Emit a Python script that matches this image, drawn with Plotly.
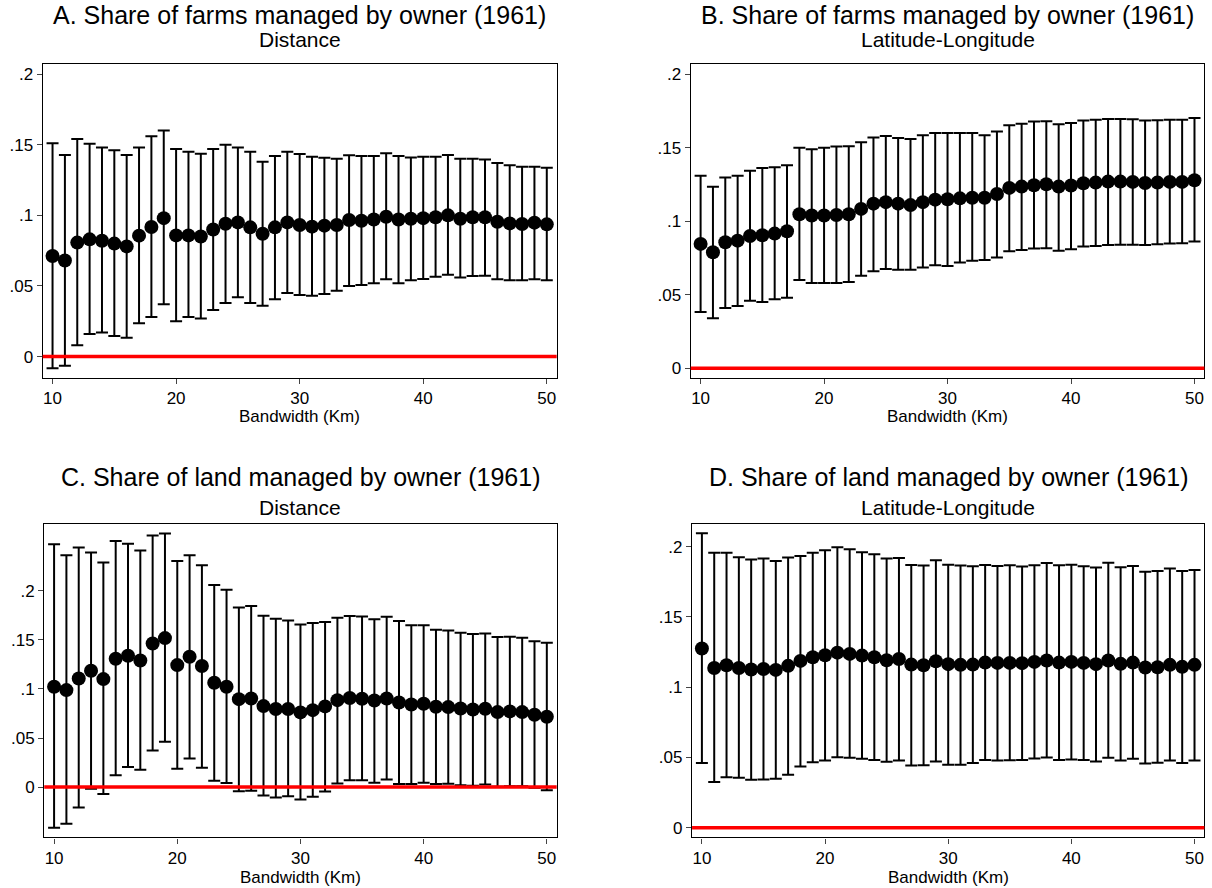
import plotly.graph_objects as go

bandwidth = list(range(10, 51))

A_est = [0.0712,0.068,0.0807,0.083,0.082,0.080,0.078,0.0856,0.0917,0.098,0.0858,0.0858,0.085,0.090,0.094,0.095,0.0915,0.087,0.0915,0.095,
         0.0932,0.092,0.0927,0.0932,0.0967,0.0962,0.097,0.099,0.097,0.0976,0.098,0.0986,0.100,0.0976,0.0986,0.0986,0.0955,0.0943,0.0939,0.0948,0.0936]
A_hi = [0.151,0.1427,0.154,0.1507,0.148,0.146,0.1427,0.148,0.156,0.160,0.147,0.145,0.1436,0.147,0.150,0.148,0.145,0.138,0.142,0.145,
        0.1434,0.1415,0.1408,0.140,0.1425,0.142,0.142,0.144,0.142,0.141,0.1415,0.1415,0.1427,0.140,0.140,0.1396,0.137,0.1354,0.1344,0.1344,0.1337]
A_lo = [-0.0083,-0.0064,0.008,0.016,0.017,0.0146,0.0134,0.0236,0.028,0.037,0.025,0.028,0.027,0.033,0.038,0.042,0.038,0.036,0.0406,0.045,
        0.0436,0.043,0.0443,0.0467,0.050,0.0507,0.052,0.0547,0.052,0.054,0.055,0.0566,0.058,0.056,0.057,0.0573,0.0547,0.054,0.054,0.0547,0.054]

B_est = [0.0846,0.0789,0.0857,0.0868,0.090,0.0905,0.0916,0.0932,0.1048,0.1039,0.1039,0.1043,0.1048,0.1084,0.112,0.113,0.112,0.111,0.113,0.1147,
         0.115,0.1156,0.116,0.116,0.1186,0.1227,0.1236,0.1245,0.1252,0.1236,0.1243,0.1259,0.1263,0.127,0.127,0.1268,0.126,0.1263,0.1268,0.1268,0.1279]
B_hi = [0.131,0.1235,0.1297,0.131,0.1344,0.1363,0.1367,0.1381,0.150,0.149,0.150,0.1508,0.151,0.1537,0.157,0.158,0.1567,0.156,0.1585,0.160,
        0.160,0.160,0.160,0.1585,0.161,0.1653,0.1664,0.1678,0.168,0.166,0.1669,0.1685,0.169,0.1696,0.1696,0.1694,0.1685,0.1687,0.169,0.169,0.1703]
B_lo = [0.0383,0.034,0.041,0.0424,0.046,0.045,0.047,0.048,0.060,0.058,0.058,0.058,0.0587,0.063,0.066,0.0676,0.067,0.067,0.0685,0.070,
        0.0696,0.0719,0.0732,0.0737,0.0753,0.0796,0.0805,0.0814,0.0816,0.080,0.081,0.0828,0.0832,0.0839,0.0841,0.0841,0.0839,0.0843,0.0848,0.085,0.0862]

C_est = [0.1022,0.0988,0.1107,0.1185,0.110,0.1307,0.1338,0.129,0.1463,0.1518,0.1243,0.1328,0.1233,0.1063,0.1022,0.0896,0.0903,0.0825,0.0795,0.0795,
         0.0761,0.0784,0.0822,0.0886,0.0907,0.090,0.0883,0.0903,0.0862,0.0842,0.0849,0.0818,0.0815,0.0801,0.0791,0.0798,0.0764,0.0771,0.0764,0.0737,0.0716]
C_hi = [0.2475,0.2363,0.2441,0.239,0.2289,0.2506,0.2479,0.2411,0.2564,0.2584,0.2302,0.2363,0.2261,0.2058,0.201,0.183,0.1844,0.1745,0.1715,0.1698,
        0.1657,0.1671,0.1681,0.1725,0.1742,0.1738,0.1711,0.1735,0.1691,0.165,0.165,0.1603,0.1596,0.1572,0.1559,0.1565,0.1528,0.1531,0.1521,0.1487,0.147]
C_lo = [-0.0414,-0.0374,-0.0207,-0.0017,-0.0071,0.0122,0.0204,0.0177,0.0374,0.0462,0.0187,0.0292,0.0197,0.0065,0.0041,-0.0041,-0.0037,-0.0085,-0.0105,-0.0092,
        -0.0126,-0.0098,-0.0044,0.0037,0.0071,0.0071,0.0044,0.0078,0.0031,0.0031,0.0044,0.0031,0.0034,0.002,0.0014,0.0027,0.0003,0.001,0.001,-0.0007,-0.0031]

D_est = [0.1275,0.1137,0.1156,0.1137,0.1126,0.113,0.1123,0.1152,0.1187,0.1213,0.1227,0.1246,0.1237,0.1225,0.1213,0.1192,0.1201,0.1161,0.1156,0.1185,
         0.1164,0.1159,0.1161,0.1175,0.1173,0.1173,0.1171,0.118,0.119,0.1175,0.118,0.1173,0.1164,0.119,0.1166,0.1175,0.114,0.1142,0.1159,0.1145,0.1159]
D_hi = [0.2095,0.1957,0.1957,0.1924,0.1908,0.1915,0.1898,0.1922,0.1934,0.1957,0.1974,0.1995,0.1981,0.196,0.1945,0.1915,0.1919,0.187,0.1865,0.1903,
        0.1872,0.1865,0.186,0.187,0.1863,0.1867,0.1858,0.1867,0.1884,0.1867,0.1872,0.186,0.1851,0.1886,0.1853,0.1863,0.1822,0.1827,0.1844,0.1827,0.1834]
D_lo = [0.046,0.0325,0.036,0.0355,0.0341,0.0344,0.0348,0.0377,0.0436,0.0467,0.0479,0.0502,0.0498,0.0491,0.0483,0.0469,0.0479,0.0443,0.0445,0.0472,
        0.0448,0.0448,0.046,0.0483,0.0479,0.0481,0.0483,0.0493,0.05,0.0483,0.0486,0.0483,0.0472,0.0498,0.0479,0.0491,0.0457,0.0462,0.0479,0.046,0.0479]

titles = ["A. Share of farms managed by owner (1961)", "B. Share of farms managed by owner (1961)",
          "C. Share of land managed by owner (1961)", "D. Share of land managed by owner (1961)"]
subtitles = ["Distance", "Latitude-Longitude", "Distance", "Latitude-Longitude"]
x_title = "Bandwidth (Km)"
y_tickvals = [0, 0.05, 0.1, 0.15, 0.2]
y_ticktext = ["0", ".05", ".1", ".15", ".2"]
x_tickvals = [10, 20, 30, 40, 50]

panels = [(A_est, A_hi, A_lo), (B_est, B_hi, B_lo), (C_est, C_hi, C_lo), (D_est, D_hi, D_lo)]
y_ranges = [[-0.0149, 0.2069], [-0.0064, 0.2068], [-0.0513, 0.268], [-0.0069, 0.2161]]

W, H = 1212, 888
x_domains = [[0.0352, 0.4593], [0.5699, 0.9937], [0.0365, 0.4593], [0.5710, 0.9937]]
y_domains = [[0.5747, 0.9276], [0.5747, 0.9276], [0.0569, 0.4099], [0.0569, 0.4099]]
title_px = [15, 15, 477, 477]
sub_px = [40, 40, 507, 507]
xtitle_px = [416, 416, 877, 877]

FONT = "Liberation Sans, Arial, sans-serif"
fig = go.Figure()
layout = dict(width=W, height=H, margin=dict(l=0, r=0, t=0, b=0),
              paper_bgcolor="white", plot_bgcolor="white", showlegend=False,
              font=dict(family=FONT, color="black"))
annotations = []
shapes = []
for i, (est, hi, lo) in enumerate(panels):
    xa = "x" if i == 0 else f"x{i+1}"
    ya = "y" if i == 0 else f"y{i+1}"
    plus = [h - e for h, e in zip(hi, est)]
    minus = [e - l for e, l in zip(est, lo)]
    fig.add_trace(go.Scatter(
        x=bandwidth, y=est, mode="markers", xaxis=xa, yaxis=ya,
        marker=dict(color="black", size=14, symbol="circle"),
        error_y=dict(type="data", symmetric=False, array=plus, arrayminus=minus,
                     color="black", thickness=2, width=6),
    ))
    axname_x = "xaxis" if i == 0 else f"xaxis{i+1}"
    axname_y = "yaxis" if i == 0 else f"yaxis{i+1}"
    layout[axname_x] = dict(domain=x_domains[i], range=[9.2, 50.8], anchor=ya,
                            tickvals=x_tickvals, ticks="outside", ticklen=5, tickwidth=1.3,
                            showline=True, linecolor="black", linewidth=1.3, mirror=True,
                            showgrid=False, zeroline=False,
                            tickfont=dict(size=17, family=FONT))
    layout[axname_y] = dict(domain=y_domains[i], range=y_ranges[i], anchor=xa,
                            tickvals=y_tickvals, ticktext=y_ticktext, ticks="outside",
                            ticklen=5, tickwidth=1.3,
                            showline=True, linecolor="black", linewidth=1.3, mirror=True,
                            showgrid=False, zeroline=False,
                            tickfont=dict(size=17, family=FONT))
    shapes.append(dict(type="line", xref=f"{xa} domain", yref=ya, x0=0, x1=1, y0=0, y1=0,
                       line=dict(color="red", width=3.5), layer="above"))
    cx = (x_domains[i][0] + x_domains[i][1]) / 2
    annotations.append(dict(text=titles[i], x=cx, y=1 - title_px[i] / H, xref="paper", yref="paper",
                            showarrow=False, xanchor="center", yanchor="middle",
                            font=dict(size=25, family=FONT)))
    annotations.append(dict(text=subtitles[i], x=cx, y=1 - sub_px[i] / H, xref="paper", yref="paper",
                            showarrow=False, xanchor="center", yanchor="middle",
                            font=dict(size=21, family=FONT)))
    annotations.append(dict(text=x_title, x=cx, y=1 - xtitle_px[i] / H, xref="paper", yref="paper",
                            showarrow=False, xanchor="center", yanchor="middle",
                            font=dict(size=17, family=FONT)))

layout["annotations"] = annotations
layout["shapes"] = shapes
fig.update_layout(**layout)
fig.write_html("out.html", config={"displayModeBar": False},
               post_script="document.body.style.margin='0px';")
